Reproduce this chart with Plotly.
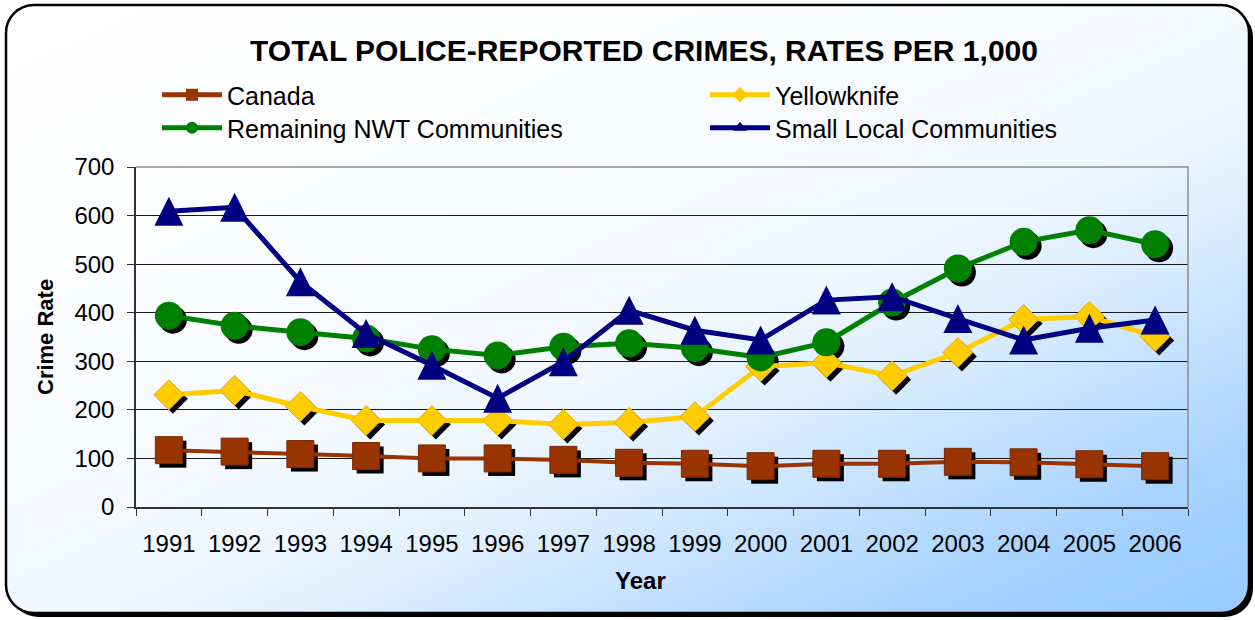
import base64
import plotly.graph_objects as go

# ---- data ----------------------------------------------------------------
years = [str(y) for y in range(1991, 2007)]
canada = [117, 114, 109, 105, 100, 100, 97, 91, 89, 84, 89, 89, 93, 92, 88, 84]
yellowknife = [231, 240, 207, 178, 178, 178, 170, 174, 186, 289, 297, 270, 318, 386, 392, 351]
remaining_nwt = [394, 373, 360, 347, 325, 312, 330, 337, 327, 308, 339, 421, 491, 546, 570, 541]
small_local = [609, 617, 464, 357, 292, 224, 299, 405, 364, 344, 426, 433, 388, 344, 368, 385]

series_names = ["Canada", "Yellowknife", "Remaining NWT Communities", "Small Local Communities"]
title_text = "TOTAL POLICE-REPORTED CRIMES, RATES PER 1,000"
y_title = "Crime Rate"
x_title = "Year"

# ---- geometry / style ------------------------------------------------------
W, H = 1255, 620
L, R, T, B = 136, 67, 167, 113
PW, PH = W - L - R, H - T - B
Y_MAX = 700
N = len(years)
FONT = "Arial, Liberation Sans, sans-serif"

C_CANADA = "#993300"
C_YK = "#FFCC00"
C_NWT = "#008000"
C_SMALL = "#000080"

SHADOW_PX = 4
TRI_SIZE = 29

# units per pixel on each axis
x_upp = N / PW
y_upp = Y_MAX / PH
x_range = [-0.5, N - 0.5]

# ---- chart-area background: rounded frame with a diagonal blue gradient ---
stops = [(0.0, 0.0), (0.2, 0.02), (0.4, 0.07), (0.55, 0.16), (0.65, 0.36),
         (0.75, 0.62), (0.85, 0.86), (0.95, 1.0), (1.0, 1.0)]


def blend(s):
    r = round(255 - (255 - 153) * s)
    g = round(255 - (255 - 204) * s)
    return f"rgb({r},{g},255)"


stop_xml = "".join(f'<stop offset="{o}" stop-color="{blend(s)}"/>' for o, s in stops)
svg = (
    f'<svg xmlns="http://www.w3.org/2000/svg" width="{W}" height="{H}" viewBox="0 0 {W} {H}">'
    f'<defs><linearGradient id="g" gradientUnits="userSpaceOnUse" x1="0" y1="0" x2="449" y2="998">'
    f'{stop_xml}</linearGradient></defs>'
    f'<rect x="10" y="9" width="1243" height="608" rx="28" ry="28" fill="#000"/>'
    f'<rect x="6" y="5" width="1243" height="608" rx="28" ry="28" fill="url(#g)" '
    f'stroke="#000" stroke-width="2.5"/>'
    f'</svg>'
)
bg_uri = "data:image/svg+xml;base64," + base64.b64encode(svg.encode()).decode()

fig = go.Figure()

# legend entries: one small legend per entry, laid out as a 2x2 grid
# (pixel position of each entry's symbol start and row centre)
legend_specs = [(series_names[0], C_CANADA, "square", "legend", 157, 95),
                (series_names[1], C_YK, "diamond", "legend2", 705, 95),
                (series_names[2], C_NWT, "circle", "legend3", 157, 128),
                (series_names[3], C_SMALL, "triangle-up", "legend4", 705, 128)]
LEGEND_FONT = dict(family=FONT, size=25, color="#000")
legend_layouts = {}
for name, col, sym, leg, px, py in legend_specs:
    fig.add_trace(go.Scatter(
        x=[None], y=[None], xaxis="x", yaxis="y", mode="lines+markers", name=name,
        line=dict(color=col, width=5), marker=dict(symbol=sym, size=12, color=col),
        legend=leg))
    legend_layouts[leg] = dict(
        xref="paper", x=(px - L) / PW, xanchor="left",
        yref="paper", y=1 + (T - py) / PH, yanchor="middle",
        itemwidth=60, font=LEGEND_FONT, bgcolor="rgba(0,0,0,0)", borderwidth=0)

# marker shadows (drawn on an axis pair offset a few pixels right/down)
for vals, sym, size in [(canada, "square", 27), (yellowknife, "diamond", 23),
                        (remaining_nwt, "circle", 28)]:
    fig.add_trace(go.Scatter(
        x=years, y=vals, xaxis="x2", yaxis="y2", mode="markers",
        marker=dict(symbol=sym, size=size, color="#000000", line=dict(width=0)),
        showlegend=False, hoverinfo="skip"))

# the four series
fig.add_trace(go.Scatter(
    x=years, y=canada, xaxis="x3", yaxis="y3", mode="lines+markers", name=series_names[0],
    line=dict(color=C_CANADA, width=4),
    marker=dict(symbol="square", size=27, color=C_CANADA, line=dict(width=1, color="#7a2800")),
    showlegend=False))
fig.add_trace(go.Scatter(
    x=years, y=yellowknife, xaxis="x3", yaxis="y3", mode="lines+markers", name=series_names[1],
    line=dict(color=C_YK, width=5),
    marker=dict(symbol="diamond", size=23, color=C_YK, line=dict(width=1, color="#E0B000")),
    showlegend=False))
fig.add_trace(go.Scatter(
    x=years, y=remaining_nwt, xaxis="x3", yaxis="y3", mode="lines+markers", name=series_names[2],
    line=dict(color=C_NWT, width=5),
    marker=dict(symbol="circle", size=28, color=C_NWT, line=dict(width=0)),
    showlegend=False))
fig.add_trace(go.Scatter(
    x=years, y=small_local, xaxis="x3", yaxis="y3", mode="lines", name=series_names[3],
    line=dict(color=C_SMALL, width=5), showlegend=False))
# triangles: arrow-up has its apex at the point, so its axis is lifted by half the size
fig.add_trace(go.Scatter(
    x=years, y=small_local, xaxis="x4", yaxis="y4", mode="markers", name=series_names[3],
    marker=dict(symbol="arrow-up", size=TRI_SIZE, color=C_SMALL, line=dict(width=0)),
    showlegend=False))

tick_font = dict(family=FONT, size=24, color="#000")


def hidden_x(rng):
    return dict(type="category", categoryorder="array", categoryarray=years, overlaying="x",
                range=rng, visible=False, fixedrange=True)


def hidden_y(rng):
    return dict(overlaying="y", range=rng, visible=False, fixedrange=True)


fig.update_layout(
    width=W, height=H,
    margin=dict(l=L, r=R, t=T, b=B, autoexpand=False),
    paper_bgcolor="white",
    plot_bgcolor="rgba(0,0,0,0)",
    font=dict(family=FONT, color="#000"),
    title=dict(text=f"<b>{title_text}</b>", font=dict(family=FONT, size=30, color="#000"),
               x=644 / W, xref="container", xanchor="center",
               y=1 - 50 / H, yref="container", yanchor="middle"),
    xaxis=dict(type="category", categoryorder="array", categoryarray=years,
               range=x_range, tickson="boundaries", ticks="outside", ticklen=7,
               tickcolor="#333", tickwidth=1, showline=True, linecolor="#333", linewidth=1.5,
               showgrid=False, tickfont=tick_font, ticklabelstandoff=14, fixedrange=True),
    yaxis=dict(range=[0, Y_MAX], dtick=100, showgrid=True, gridcolor="#1a1a1a", gridwidth=1,
               ticks="outside", ticklen=7, tickcolor="#333", showline=True, linecolor="#333",
               linewidth=1.5, zeroline=False, tickfont=tick_font, ticklabelstandoff=8,
               fixedrange=True),
    xaxis2=hidden_x([x_range[0] - SHADOW_PX * x_upp, x_range[1] - SHADOW_PX * x_upp]),
    yaxis2=hidden_y([SHADOW_PX * y_upp, Y_MAX + SHADOW_PX * y_upp]),
    xaxis3=hidden_x(x_range),
    yaxis3=hidden_y([0, Y_MAX]),
    xaxis4=hidden_x(x_range),
    yaxis4=hidden_y([-(TRI_SIZE / 2) * y_upp, Y_MAX - (TRI_SIZE / 2) * y_upp]),
    annotations=[
        dict(text=f"<b>{y_title}</b>", xref="paper", yref="paper",
             x=(45 - L) / PW, y=0.5, textangle=-90, showarrow=False,
             xanchor="center", yanchor="middle",
             font=dict(family=FONT, size=22, color="#000")),
        dict(text=f"<b>{x_title}</b>", xref="paper", yref="paper",
             x=(640 - L) / PW, y=-(580 - (H - B)) / PH, showarrow=False,
             xanchor="center", yanchor="middle",
             font=dict(family=FONT, size=24, color="#000")),
    ],
    shapes=[
        dict(type="path", xref="paper", yref="paper", path="M 0 1 L 1 1 L 1 0",
             line=dict(color="#8c8c8c", width=1.5), layer="above"),
    ],
    images=[
        dict(source=bg_uri, xref="paper", yref="paper",
             x=-L / PW, y=1 + T / PH, sizex=W / PW, sizey=H / PH,
             xanchor="left", yanchor="top", sizing="stretch", layer="below"),
    ],
    hovermode=False,
    **legend_layouts,
)

fig.write_html("out.html", config={"displayModeBar": False})
